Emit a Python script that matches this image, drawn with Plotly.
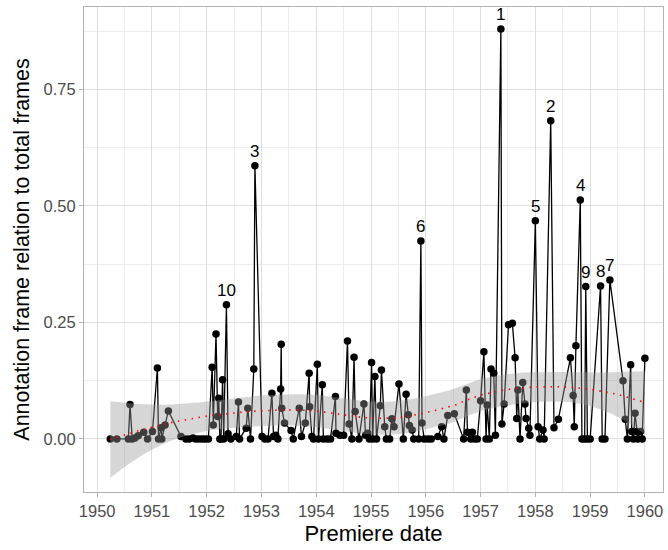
import numpy as np
import plotly.graph_objects as go

# ---- data (decimal premiere year, annotation-frame ratio) ----
premiere_year = [
    1950.24, 1950.36, 1950.57, 1950.60, 1950.64, 1950.69, 1950.75, 1950.85, 1950.92, 1951.01,
    1951.10, 1951.12, 1951.17, 1951.18, 1951.24, 1951.30, 1951.53, 1951.62, 1951.68, 1951.75,
    1951.80, 1951.86, 1951.92, 1951.97, 1952.03, 1952.10, 1952.12, 1952.17, 1952.20, 1952.22,
    1952.24, 1952.26, 1952.29, 1952.31, 1952.36, 1952.39, 1952.44, 1952.54, 1952.58, 1952.60,
    1952.72, 1952.75, 1952.80, 1952.86, 1952.88, 1953.01, 1953.06, 1953.12, 1953.19, 1953.22,
    1953.26, 1953.30, 1953.35, 1953.36, 1953.37, 1953.42, 1953.54, 1953.58, 1953.69, 1953.73,
    1953.80, 1953.87, 1953.88, 1953.92, 1953.95, 1954.02, 1954.04, 1954.11, 1954.13, 1954.20,
    1954.26, 1954.35, 1954.36, 1954.43, 1954.50, 1954.57, 1954.60, 1954.65, 1954.69, 1954.71,
    1954.78, 1954.87, 1954.90, 1954.94, 1954.97, 1955.01, 1955.03, 1955.07, 1955.10, 1955.17,
    1955.19, 1955.25, 1955.28, 1955.34, 1955.38, 1955.42, 1955.51, 1955.59, 1955.64, 1955.68,
    1955.70, 1955.75, 1955.78, 1955.87, 1955.91, 1955.93, 1955.97, 1956.04, 1956.10, 1956.22,
    1956.29, 1956.33, 1956.40, 1956.52, 1956.69, 1956.74, 1956.76, 1956.82, 1956.85, 1956.89,
    1956.94, 1957.00, 1957.06, 1957.10, 1957.12, 1957.16, 1957.19, 1957.24, 1957.27, 1957.37,
    1957.39, 1957.43, 1957.51, 1957.58, 1957.63, 1957.66, 1957.68, 1957.72, 1957.77, 1957.81,
    1957.83, 1957.88, 1957.90, 1958.00, 1958.05, 1958.08, 1958.14, 1958.16, 1958.28, 1958.34,
    1958.42, 1958.64, 1958.69, 1958.71, 1958.74, 1958.82, 1958.85, 1958.90, 1958.92, 1958.95,
    1959.00, 1959.19, 1959.22, 1959.27, 1959.36, 1959.60, 1959.64, 1959.68, 1959.74, 1959.76,
    1959.79, 1959.82, 1959.85, 1959.87, 1959.92, 1959.95, 1960.00,
]
frame_ratio = [
    0, 0, 0, 0.074, 0, 0.002, 0.007, 0.014, 0, 0.016,
    0.152, 0, 0.024, 0, 0.030, 0.060, 0.005, 0, 0, 0.002,
    0, 0, 0, 0, 0, 0.154, 0.030, 0.225, 0.048, 0.087,
    0, 0, 0.127, 0, 0.288, 0.011, 0, 0.005, 0.079, 0,
    0.023, 0.066, 0, 0.150, 0.586, 0.005, 0, 0, 0.098, 0.005,
    0.008, 0, 0.107, 0.203, 0.066, 0.034, 0.018, 0, 0.066, 0.005,
    0.034, 0.141, 0.069, 0.005, 0, 0.160, 0, 0.116, 0, 0,
    0, 0.091, 0.012, 0.008, 0.008, 0.210, 0.032, 0, 0.175, 0.059,
    0, 0.075, 0.008, 0.012, 0, 0.164, 0, 0.134, 0, 0.071,
    0.148, 0.026, 0, 0, 0.043, 0.026, 0.118, 0, 0.096, 0.052,
    0.029, 0.019, 0, 0, 0.425, 0.034, 0, 0, 0, 0.005,
    0.026, 0, 0.050, 0.054, 0, 0.105, 0.014, 0, 0.014, 0,
    0, 0.082, 0.187, 0, 0.073, 0, 0.150, 0.141, 0.008, 0.880,
    0.032, 0.075, 0.245, 0.248, 0.174, 0.044, 0.105, 0, 0.121, 0.075,
    0.044, 0.023, 0.008, 0.468, 0.026, 0, 0.019, 0, 0.683, 0.024,
    0.042, 0.174, 0.093, 0.026, 0.200, 0.513, 0, 0, 0.327, 0,
    0, 0.328, 0, 0, 0.341, 0.125, 0.042, 0, 0.159, 0.016,
    0, 0.055, 0.016, 0, 0.016, 0, 0.173,
]
rank_labels = ["1", "2", "3", "4", "5", "6", "7", "8", "9", "10"]
rank_year = [1957.37, 1958.28, 1952.88, 1958.82, 1958.00, 1955.91, 1959.36, 1959.19, 1958.92, 1952.36]
rank_ratio = [0.880, 0.683, 0.586, 0.513, 0.468, 0.425, 0.341, 0.328, 0.327, 0.288]

x_tick_years = list(range(1950, 1961))
y_tick_vals = [0, 0.25, 0.5, 0.75]
y_tick_text = ["0.00", "0.25", "0.50", "0.75"]

x = np.array(premiere_year, dtype=float)
y = np.array(frame_ratio, dtype=float)


# ---- loess (degree 2, span 0.75) with standard error band ----
def loess_rows(x, x0s, span=0.75):
    n = len(x)
    q = int(np.floor(n * span))
    rows = []
    for x0 in x0s:
        d = np.abs(x - x0)
        h = np.sort(d)[q - 1]
        u = np.clip(d / h, 0, 1)
        w = (1 - u ** 3) ** 3
        X = np.column_stack([np.ones(n), x - x0, (x - x0) ** 2])
        XtW = X.T * w
        A = XtW @ X
        rows.append(np.linalg.solve(A, XtW)[0])
    return np.array(rows)


L = loess_rows(x, x)
resid = y - L @ y
M = np.eye(len(x)) - L
MtM = M.T @ M
delta1 = np.trace(MtM)
sigma = np.sqrt(np.sum(resid ** 2) / delta1)

xs = np.linspace(x.min(), x.max(), 80)
Ls = loess_rows(x, xs)
fit = Ls @ y
se = sigma * np.sqrt(np.sum(Ls ** 2, axis=1))
tq = 1.973
lo = fit - tq * se
hi = fit + tq * se

FONT = "Liberation Sans, Arial, sans-serif"

fig = go.Figure()

fig.add_trace(go.Scatter(
    x=x, y=y, mode="lines+markers",
    line=dict(color="black", width=1.3),
    marker=dict(color="black", size=7.5),
    hoverinfo="skip", showlegend=False,
))

fig.add_trace(go.Scatter(
    x=np.concatenate([xs, xs[::-1]]), y=np.concatenate([hi, lo[::-1]]),
    mode="lines", fill="toself", fillcolor="rgba(153,153,153,0.4)",
    line=dict(width=0), hoverinfo="skip", showlegend=False,
))

fig.add_trace(go.Scatter(
    x=xs, y=fit, mode="lines",
    line=dict(color="red", width=1.6, dash="1.5px,5.5px"),
    hoverinfo="skip", showlegend=False,
))

for lab, rx, ry in zip(rank_labels, rank_year, rank_ratio):
    fig.add_annotation(
        x=rx, y=ry, text=lab, showarrow=False,
        yanchor="bottom", xanchor="center", yshift=3,
        font=dict(family=FONT, size=17, color="black"),
    )

axis_common = dict(
    showline=True, mirror=True, linecolor="#b3b3b3", linewidth=1,
    ticks="outside", ticklen=4, tickcolor="#b3b3b3", tickwidth=1,
    gridcolor="#dedede", gridwidth=1, zeroline=False,
    tickfont=dict(family=FONT, size=16.5, color="#4d4d4d"),
)

fig.update_layout(
    width=668, height=550,
    margin=dict(l=84, r=5, t=7, b=58),
    paper_bgcolor="white", plot_bgcolor="white",
    font=dict(family=FONT),
    xaxis=dict(
        range=[1949.76, 1960.33], tickvals=x_tick_years,
        ticktext=[str(v) for v in x_tick_years],
        minor=dict(tickvals=[v + 0.5 for v in range(1949, 1961)], showgrid=True,
                   gridcolor="#ececec", gridwidth=0.6, ticks=""),
        title=dict(text="Premiere date", font=dict(size=22, color="black"), standoff=6),
        **axis_common,
    ),
    yaxis=dict(
        range=[-0.114, 0.927], tickvals=y_tick_vals, ticktext=y_tick_text,
        minor=dict(tickvals=[-0.125, 0.125, 0.375, 0.625, 0.875], showgrid=True,
                   gridcolor="#ececec", gridwidth=0.6, ticks=""),
        title=dict(text="Annotation frame relation to total frames",
                   font=dict(size=21.5, color="black"), standoff=8),
        **axis_common,
    ),
)

fig.write_html("out.html")
